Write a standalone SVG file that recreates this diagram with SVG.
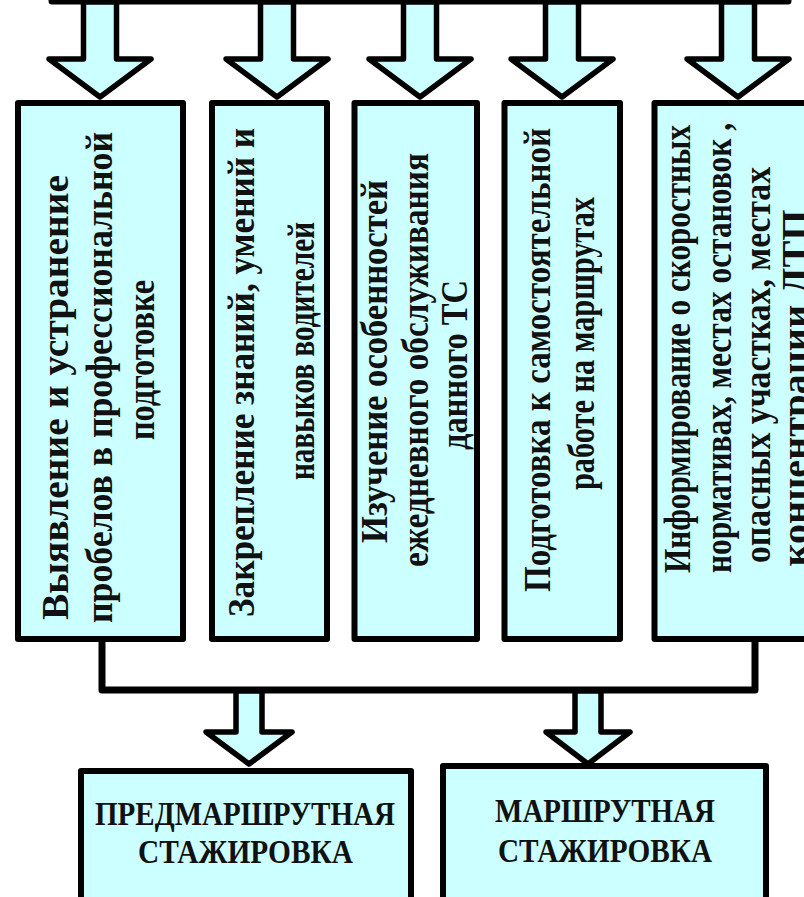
<svg xmlns="http://www.w3.org/2000/svg" width="804" height="897" viewBox="0 0 804 897">
  <style>
    .box { fill: #CCFFFF; stroke: #000; stroke-width: 6; stroke-linejoin: round; }
    .arrow { fill: #CCFFFF; stroke: #000; stroke-width: 5.5; stroke-linejoin: round; }
    .bus { fill: none; stroke: #000; stroke-width: 7; stroke-linejoin: round; stroke-linecap: round; }
    .vt { font-family: "Liberation Serif", "Times New Roman", serif; font-weight: bold; font-size: 37px; fill: #111; text-anchor: middle; }
    .ht { font-family: "Liberation Serif", "Times New Roman", serif; font-weight: bold; font-size: 33px; fill: #111; text-anchor: middle; }
  </style>
  <rect width="804" height="897" fill="#fff"/>

  <!-- connectors: top bus, block arrows, lower bracket -->
  <g id="connectors">
    <line class="bus" x1="52" y1="1" x2="788" y2="1"/>
    <path class="arrow" d="M83.5,2 V59 H49 L100,97 L151,59 H116.5 V2 Z"/>
    <path class="arrow" d="M260.5,2 V59 H226 L277,97 L328,59 H293.5 V2 Z"/>
    <path class="arrow" d="M403.5,2 V59 H369 L420,97 L471,59 H436.5 V2 Z"/>
    <path class="arrow" d="M545.5,2 V59 H511 L562,97 L613,59 H578.5 V2 Z"/>
    <path class="arrow" d="M721.5,2 V59 H687 L738,97 L789,59 H754.5 V2 Z"/>
    <polyline class="bus" points="102,640 102,690 755,690 755,640"/>
    <path class="arrow" d="M236,691 V732 H206 L249,764 L292,732 H262 V691 Z"/>
    <path class="arrow" d="M575,691 V732 H546 L588,764 L630,732 H601 V691 Z"/>
  </g>

  <g id="node-gaps">
    <rect class="box" x="18" y="103" width="165" height="536"/>
    <text class="vt" transform="translate(68,397.5) rotate(-90)" textLength="445" lengthAdjust="spacingAndGlyphs">Выявление и устранение</text>
    <text class="vt" transform="translate(112,377.5) rotate(-90)" textLength="491" lengthAdjust="spacingAndGlyphs">пробелов в профессиональной</text>
    <text class="vt" transform="translate(154,360) rotate(-90)" textLength="160" lengthAdjust="spacingAndGlyphs">подготовке</text>
  </g>

  <g id="node-skills">
    <rect class="box" x="212" y="103" width="115" height="536"/>
    <text class="vt" transform="translate(254,372.5) rotate(-90)" textLength="489" lengthAdjust="spacingAndGlyphs">Закрепление знаний, умений и</text>
    <text class="vt" transform="translate(314,351) rotate(-90)" textLength="258" lengthAdjust="spacingAndGlyphs">навыков водителей</text>
  </g>

  <g id="node-service">
    <rect class="box" x="354.5" y="103" width="122.5" height="536"/>
    <text class="vt" transform="translate(387,361.5) rotate(-90)" textLength="363" lengthAdjust="spacingAndGlyphs">Изучение особенностей</text>
    <text class="vt" transform="translate(428,360) rotate(-90)" textLength="414" lengthAdjust="spacingAndGlyphs">ежедневного обслуживания</text>
    <text class="vt" transform="translate(467,365) rotate(-90)" textLength="170" lengthAdjust="spacingAndGlyphs">данного ТС</text>
  </g>

  <g id="node-routes">
    <rect class="box" x="504.5" y="103" width="115.5" height="536"/>
    <text class="vt" transform="translate(550,360) rotate(-90)" textLength="464" lengthAdjust="spacingAndGlyphs">Подготовка к самостоятельной</text>
    <text class="vt" transform="translate(594,343.5) rotate(-90)" textLength="293" lengthAdjust="spacingAndGlyphs">работе на маршрутах</text>
  </g>

  <g id="node-info">
    <rect class="box" x="654.5" y="103" width="180" height="536"/>
    <text class="vt" transform="translate(690,349) rotate(-90)" textLength="448" lengthAdjust="spacingAndGlyphs">Информирование о скоростных</text>
    <text class="vt" transform="translate(731,348) rotate(-90)" textLength="450" lengthAdjust="spacingAndGlyphs">нормативах, местах остановок ,</text>
    <text class="vt" transform="translate(770,365) rotate(-90)" textLength="396" lengthAdjust="spacingAndGlyphs">опасных участках, местах</text>
    <text class="vt" transform="translate(808,388) rotate(-90)" textLength="357" lengthAdjust="spacingAndGlyphs">концентрации ДТП</text>
  </g>

  <g id="node-pre-route">
    <rect class="box" x="81" y="771" width="330" height="160"/>
    <text class="ht" x="245" y="825" textLength="300" lengthAdjust="spacingAndGlyphs">ПРЕДМАРШРУТНАЯ</text>
    <text class="ht" x="245.5" y="863" textLength="215" lengthAdjust="spacingAndGlyphs">СТАЖИРОВКА</text>
  </g>

  <g id="node-route">
    <rect class="box" x="443" y="766" width="323" height="165"/>
    <text class="ht" x="605" y="822" textLength="220" lengthAdjust="spacingAndGlyphs">МАРШРУТНАЯ</text>
    <text class="ht" x="605" y="862" textLength="214" lengthAdjust="spacingAndGlyphs">СТАЖИРОВКА</text>
  </g>
</svg>
